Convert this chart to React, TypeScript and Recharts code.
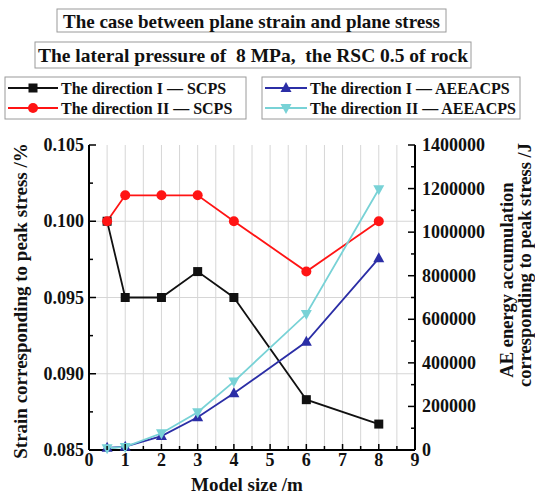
import { LineChart, Line, XAxis, YAxis, CartesianGrid, ReferenceLine } from "recharts";

// Ensayos de tamaño de modelo: deformación en el pico (eje izq.) y energía AE acumulada (eje der.)
const sizes = [0.5, 1, 2, 3, 4, 6, 8];
const strainDirI = [0.1, 0.095, 0.095, 0.0967, 0.095, 0.0883, 0.0867];
const strainDirII = [0.1, 0.1017, 0.1017, 0.1017, 0.1, 0.0967, 0.1];
const energyDirI = [10000, 15000, 64000, 150000, 260000, 497000, 880000];
const energyDirII = [8000, 14000, 77000, 173000, 314000, 624000, 1197000];

const xTicks = [0, 0.5, 1, 1.5, 2, 2.5, 3, 3.5, 4, 4.5, 5, 5.5, 6, 6.5, 7, 7.5, 8, 8.5, 9];
const leftTicks = [0.085, 0.0875, 0.09, 0.0925, 0.095, 0.0975, 0.1, 0.1025, 0.105];
const leftGrid = [0.09, 0.095, 0.1];
const rightTicks = [
  0, 100000, 200000, 300000, 400000, 500000, 600000, 700000, 800000, 900000, 1000000, 1100000, 1200000,
  1300000, 1400000,
];

const C = { black: "#111111", red: "#ff1414", blue: "#2b2ea6", cyan: "#78d2d6", grid: "#d6d6d6" };
const FONT = "'Liberation Serif', 'Times New Roman', serif";

const data = sizes.map((s, i) => ({
  size: s,
  sI: strainDirI[i],
  sII: strainDirII[i],
  eI: energyDirI[i],
  eII: energyDirII[i],
}));

const lbl = { fontFamily: FONT, fontWeight: 700, fontSize: 18, fill: "#111" };

// ticks hacia dentro; los pares son mayores (con etiqueta), los impares menores
// eslint-disable-next-line @typescript-eslint/no-explicit-any
const LeftTick = (p: any) => {
  const major = p.index % 2 === 0;
  return (
    <g>
      <line x1={p.x} x2={p.x + (major ? 7 : 4)} y1={p.y} y2={p.y} stroke="#000" strokeWidth={1.5} />
      {major && (
        <text x={p.x - 5} y={p.y} textAnchor="end" dominantBaseline="central" {...lbl}>
          {Number(p.payload.value).toFixed(3)}
        </text>
      )}
    </g>
  );
};

// eslint-disable-next-line @typescript-eslint/no-explicit-any
const RightTick = (p: any) => {
  const major = p.index % 2 === 0;
  return (
    <g>
      <line x1={p.x} x2={p.x - (major ? 7 : 4)} y1={p.y} y2={p.y} stroke="#000" strokeWidth={1.5} />
      {major && (
        <text x={p.x + 7} y={p.y} textAnchor="start" dominantBaseline="central" {...lbl}>
          {p.payload.value}
        </text>
      )}
    </g>
  );
};

// eslint-disable-next-line @typescript-eslint/no-explicit-any
const BottomTick = (p: any) => {
  const major = p.index % 2 === 0;
  return (
    <g>
      <line x1={p.x} x2={p.x} y1={p.y} y2={p.y - (major ? 6 : 4)} stroke="#000" strokeWidth={1.5} />
      {major && (
        <text x={p.x} y={p.y + 10} textAnchor="middle" dominantBaseline="central" {...lbl}>
          {p.payload.value}
        </text>
      )}
    </g>
  );
};

// marcadores
// eslint-disable-next-line @typescript-eslint/no-explicit-any
const square = (color: string) => (p: any) => (
  <rect key={p.index} x={p.cx - 4.5} y={p.cy - 4.5} width={9} height={9} fill={color} />
);
// eslint-disable-next-line @typescript-eslint/no-explicit-any
const circle = (color: string) => (p: any) => <circle key={p.index} cx={p.cx} cy={p.cy} r={5} fill={color} />;
// eslint-disable-next-line @typescript-eslint/no-explicit-any
const triUp = (color: string) => (p: any) => (
  <polygon
    key={p.index}
    points={`${p.cx},${p.cy - 6} ${p.cx - 5.5},${p.cy + 4} ${p.cx + 5.5},${p.cy + 4}`}
    fill={color}
  />
);
// eslint-disable-next-line @typescript-eslint/no-explicit-any
const triDown = (color: string) => (p: any) => (
  <polygon
    key={p.index}
    points={`${p.cx},${p.cy + 6} ${p.cx - 5.5},${p.cy - 4} ${p.cx + 5.5},${p.cy - 4}`}
    fill={color}
  />
);

const series = [
  { key: "sI", axis: "left", color: C.black, dot: square, name: "The direction I \u2014 SCPS" },
  { key: "sII", axis: "left", color: C.red, dot: circle, name: "The direction II \u2014 SCPS" },
  { key: "eI", axis: "right", color: C.blue, dot: triUp, name: "The direction I \u2014 AEEACPS" },
  { key: "eII", axis: "right", color: C.cyan, dot: triDown, name: "The direction II \u2014 AEEACPS" },
];

function LegendBox({ x, y, w, items, lineW }: { x: number; y: number; w: number; items: typeof series; lineW: number }) {
  return (
    <g>
      <rect x={x} y={y} width={w} height={42} fill="#fff" stroke="#9a9a9a" strokeWidth={1} />
      {items.map((s, i) => {
        const cy = y + 11 + i * 20;
        const mx = x + 3 + lineW / 2;
        return (
          <g key={s.key}>
            <line x1={x + 3} x2={x + 3 + lineW} y1={cy} y2={cy} stroke={s.color} strokeWidth={2} />
            {s.dot(s.color)({ cx: mx, cy, index: 0 })}
            <text x={x + lineW + 6} y={cy} dominantBaseline="central" {...lbl} fontSize={16}>
              {s.name}
            </text>
          </g>
        );
      })}
    </g>
  );
}

export default function App() {
  return (
    <div style={{ position: "absolute", left: 0, top: 0, width: 535, height: 494, background: "#fff" }}>
      <LineChart width={535} height={494} data={data} margin={{ top: 145, right: 0, bottom: 0, left: 0 }}>
        <CartesianGrid horizontal={false} stroke={C.grid} strokeWidth={1} />
        <XAxis
          type="number"
          dataKey="size"
          domain={[0, 9]}
          ticks={xTicks}
          interval={0}
          height={44}
          tickSize={0}
          tickMargin={0}
          tickLine={false}
          tick={BottomTick}
          axisLine={{ stroke: "#000", strokeWidth: 2 }}
        />
        <YAxis
          yAxisId="left"
          domain={[0.085, 0.105]}
          ticks={leftTicks}
          interval={0}
          width={89}
          tickSize={0}
          tickMargin={0}
          tickLine={false}
          tick={LeftTick}
          axisLine={{ stroke: "#000", strokeWidth: 2 }}
        />
        <YAxis
          yAxisId="right"
          orientation="right"
          domain={[0, 1400000]}
          ticks={rightTicks}
          interval={0}
          width={120}
          tickSize={0}
          tickMargin={0}
          tickLine={false}
          tick={RightTick}
          axisLine={{ stroke: "#000", strokeWidth: 2 }}
        />
        {leftGrid.map((v) => (
          <ReferenceLine key={v} yAxisId="left" y={v} stroke={C.grid} strokeWidth={1} />
        ))}
        {series.map((s) => (
          <Line
            key={s.key}
            yAxisId={s.axis}
            dataKey={s.key}
            type="linear"
            stroke={s.color}
            strokeWidth={1.8}
            dot={s.dot(s.color)}
            activeDot={false}
            isAnimationActive={false}
          />
        ))}
      </LineChart>
      <svg width={535} height={494} style={{ position: "absolute", left: 0, top: 0, pointerEvents: "none" }}>
        <rect x={57} y={9} width={389} height={23} fill="#fff" stroke="#9a9a9a" />
        <text x={251.5} y={21} textAnchor="middle" dominantBaseline="central" {...lbl} fontSize={19}>
          The case between plane strain and plane stress
        </text>
        <rect x={35} y={42} width={436} height={26} fill="#fff" stroke="#9a9a9a" />
        <text
          x={253}
          y={55.5}
          textAnchor="middle"
          dominantBaseline="central"
          {...lbl}
          fontSize={19.5}
          style={{ whiteSpace: "pre" }}
        >
          {"The lateral pressure of  8 MPa,  the RSC 0.5 of rock"}
        </text>
        <LegendBox x={5} y={77} w={241} items={series.slice(0, 2)} lineW={50} />
        <LegendBox x={262} y={77} w={258} items={series.slice(2)} lineW={42} />
        <text
          transform="translate(20,301) rotate(-90)"
          textAnchor="middle"
          dominantBaseline="central"
          {...lbl}
          fontSize={19}
        >
          Strain corresponding to peak stress /%
        </text>
        <text
          transform="translate(507,280) rotate(-90)"
          textAnchor="middle"
          dominantBaseline="central"
          {...lbl}
          fontSize={18.5}
        >
          AE energy accumulation
        </text>
        <text
          transform="translate(525,265) rotate(-90)"
          textAnchor="middle"
          dominantBaseline="central"
          {...lbl}
          fontSize={18.5}
        >
          corresponding to peak stress /J
        </text>
        <text x={247} y={484} textAnchor="middle" dominantBaseline="central" {...lbl} fontSize={19}>
          Model size /m
        </text>
      </svg>
    </div>
  );
}
